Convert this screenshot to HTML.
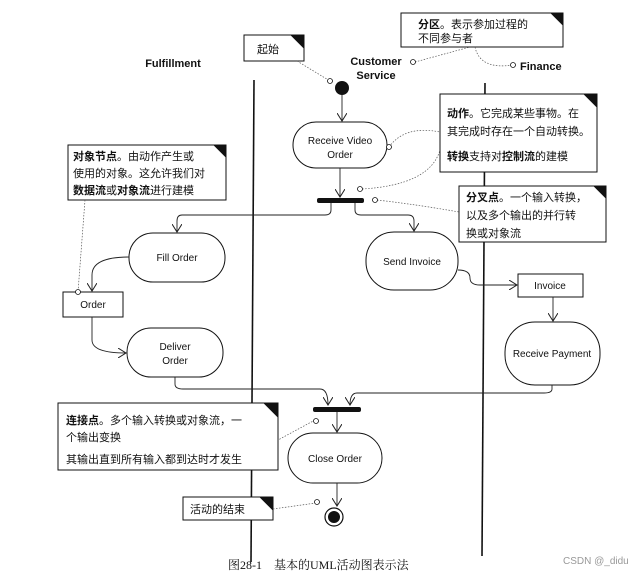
<!DOCTYPE html>
<html><head><meta charset="utf-8"><style>
body{margin:0;background:#fff;}
svg text{font-family:"Liberation Sans","Noto Sans CJK SC",sans-serif;fill:#111;}
.c{font-family:"Liberation Serif","Noto Serif CJK SC",serif !important;}
</style></head><body>
<svg width="640" height="576" viewBox="0 0 640 576" xmlns="http://www.w3.org/2000/svg">
<defs>
<marker id="a" markerWidth="10" markerHeight="10" refX="8" refY="5" orient="auto" markerUnits="userSpaceOnUse"><path d="M0,0 L8,5 L0,10" fill="none" stroke="#222" stroke-width="1"/></marker>
</defs>
<g stroke="#111" fill="none">
<line x1="254" y1="80" x2="251" y2="562" stroke-width="1.6"/>
<line x1="485" y1="83" x2="482" y2="556" stroke-width="1.6"/>
</g>
<text x="173" y="67" font-size="11" font-weight="bold" text-anchor="middle">Fulfillment</text>
<text x="376" y="65" font-size="11" font-weight="bold" text-anchor="middle">Customer</text>
<text x="376" y="79" font-size="11" font-weight="bold" text-anchor="middle">Service</text>
<text x="520" y="70" font-size="11" font-weight="bold">Finance</text>

<g stroke="#111" fill="#fff" stroke-width="1">
<path d="M401,13 H553 L563,23 V47 H401 Z"/><path d="M551,13 L563,25 L563,13Z" fill="#111"/>
<path d="M244,35 H293 L304,46 V61 H244 Z"/><path d="M291,35 L304,48 L304,35Z" fill="#111"/>
<path d="M440,94 H586 L597,105 V172 H440 Z"/><path d="M584,94 L597,107 L597,94Z" fill="#111"/>
<path d="M68,145 H216 L226,155 V200 H68 Z"/><path d="M214,145 L226,157 L226,145Z" fill="#111"/>
<path d="M459,186 H596 L606,196 V242 H459 Z"/><path d="M594,186 L606,198 L606,186Z" fill="#111"/>
<path d="M58,403 H266 L278,415 V470 H58 Z"/><path d="M264,403 L278,417 L278,403Z" fill="#111"/>
<path d="M183,497 H262 L273,508 V520 H183 Z"/><path d="M260,497 L273,510 L273,497Z" fill="#111"/>
<rect x="293" y="122" width="94" height="46" rx="23"/>
<rect x="129" y="233" width="96" height="49" rx="24"/>
<rect x="366" y="232" width="92" height="58" rx="28"/>
<rect x="127" y="328" width="96" height="49" rx="24"/>
<rect x="505" y="322" width="95" height="63" rx="30"/>
<rect x="288" y="433" width="94" height="50" rx="25"/>
<rect x="63" y="292" width="60" height="25"/>
<rect x="518" y="274" width="65" height="23"/>
</g>
<circle cx="342" cy="88" r="7" fill="#111"/>
<circle cx="334" cy="517" r="9" fill="#fff" stroke="#111" stroke-width="1.2"/>
<circle cx="334" cy="517" r="6" fill="#111"/>
<rect x="317" y="198" width="47" height="5" rx="2" fill="#111"/>
<rect x="313" y="407" width="48" height="5" rx="2" fill="#111"/>

<g stroke="#222" fill="none" stroke-width="0.9" marker-end="url(#a)">
<line x1="342" y1="95" x2="342" y2="121"/>
<line x1="340" y1="168" x2="340" y2="197"/>
<path d="M331,203 V210 Q331,215 325,215 H182 Q177,215 177,221 V232"/>
<path d="M355,203 V210 Q355,215 361,215 H408 Q414,215 414,221 V231"/>
<path d="M129,257 Q92,257 92,275 V291"/>
<path d="M92,317 V340 Q92,353 126,353"/>
<path d="M458,270 Q470,270 470,278 Q470,285 480,285 H517"/>
<line x1="553" y1="297" x2="553" y2="321"/>
<path d="M175,377 V384 Q175,389 183,389 H320 Q328,389 328,405"/>
<path d="M552,385 V389 Q552,393 544,393 H357 Q350,393 350,405"/>
<line x1="337" y1="412" x2="337" y2="432"/>
<line x1="337" y1="483" x2="337" y2="506"/>
</g>
<g stroke="#555" fill="none" stroke-width="0.7" stroke-dasharray="1.5,1.5">
<line x1="297" y1="61" x2="330" y2="81"/>
<path d="M475,47 Q480,70 513,65"/>
<line x1="415" y1="62" x2="470" y2="47"/>
<path d="M389,147 Q405,125 440,132"/>
<path d="M362,189 Q430,185 440,150"/>
<path d="M377,200 Q420,205 459,212"/>
<line x1="85" y1="200" x2="78" y2="292"/>
<line x1="315" y1="420" x2="278" y2="440"/>
<line x1="273" y1="509" x2="316" y2="503"/>
</g>
<g stroke="#111" fill="#fff" stroke-width="0.8">
<circle cx="330" cy="81" r="2.5"/><circle cx="413" cy="62" r="2.5"/><circle cx="513" cy="65" r="2.5"/>
<circle cx="389" cy="147" r="2.5"/><circle cx="360" cy="189" r="2.5"/><circle cx="375" cy="200" r="2.5"/>
<circle cx="78" cy="292" r="2.5"/><circle cx="316" cy="421" r="2.5"/><circle cx="317" cy="502" r="2.5"/>
</g>

<g font-size="10" text-anchor="middle">
<text x="340" y="144">Receive Video</text><text x="340" y="158">Order</text>
<text x="177" y="261">Fill Order</text>
<text x="412" y="265">Send Invoice</text>
<text x="93" y="308">Order</text>
<text x="550" y="289">Invoice</text>
<text x="175" y="350">Deliver</text><text x="175" y="364">Order</text>
<text x="552" y="357">Receive Payment</text>
<text x="335" y="462">Close Order</text>
</g>
<g font-size="11">
<text x="257" y="53">起始</text>
<text x="418" y="28"><tspan font-weight="bold">分区</tspan>。表示参加过程的</text>
<text x="418" y="42">不同参与者</text>
<text x="447" y="117"><tspan font-weight="bold">动作</tspan>。它完成某些事物。在</text>
<text x="447" y="135">其完成时存在一个自动转换。</text>
<text x="447" y="160"><tspan font-weight="bold">转换</tspan>支持对<tspan font-weight="bold">控制流</tspan>的建模</text>
<text x="73" y="160"><tspan font-weight="bold">对象节点</tspan>。由动作产生或</text>
<text x="73" y="177">使用的对象。这允许我们对</text>
<text x="73" y="194"><tspan font-weight="bold">数据流</tspan>或<tspan font-weight="bold">对象流</tspan>进行建模</text>
<text x="466" y="201"><tspan font-weight="bold">分叉点</tspan>。一个输入转换，</text>
<text x="466" y="219">以及多个输出的并行转</text>
<text x="466" y="237">换或对象流</text>
<text x="66" y="424"><tspan font-weight="bold">连接点</tspan>。多个输入转换或对象流，一</text>
<text x="66" y="441">个输出变换</text>
<text x="66" y="463">其输出直到所有输入都到达时才发生</text>
<text x="190" y="513">活动的结束</text>
</g>
<text x="228" y="569" font-size="12" class="c">图28-1　基本的UML活动图表示法</text>
<text x="563" y="564" font-size="10" style="fill:#999">CSDN @_didu</text>
</svg>
</body></html>
